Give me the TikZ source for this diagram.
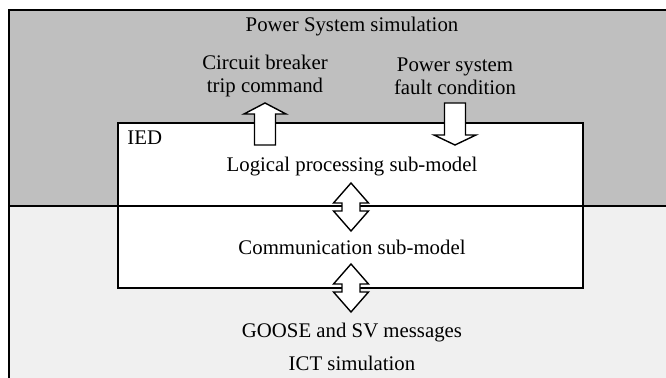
\documentclass[tikz,border=0pt]{standalone}
\usepackage{fontspec}
\setmainfont{Liberation Serif}
\usepackage{tikz}
\usetikzlibrary{positioning}

\definecolor{psgray}{gray}{0.75}
\definecolor{ictgray}{gray}{0.94}

\begin{document}
\begin{tikzpicture}[x=0.5pt, y=-0.5pt,
    every node/.style={font=\fontsize{10.4}{11.5}\selectfont, inner sep=0pt},
    blockarrow/.style={draw, fill=white, line width=0.7pt, line join=miter},
    frame/.style={line width=0.7pt}]
    \useasboundingbox (0,0) rectangle (666,378);
    \clip (0,0) rectangle (666,378);

    % the two simulation domains
    \fill[psgray] (9,10) rectangle (680,206);
    \fill[ictgray] (9,206) rectangle (680,390);
    \draw[frame] (9,390) -- (9,10) -- (680,10);

    % IED with its two sub-models
    \node (ied) at (350.5,205.5) [draw, fill=white, line width=0.7pt, minimum width=232.5pt, minimum height=82.5pt] {};
    \draw[frame] (9,206) -- (680,206);
    \node (iedlabel) at (127,138) [anchor=west] {IED};
    \node (logic) at (352,167) {Logical processing sub-model};
    \node (comm) at (352,247) {Communication sub-model};

    \node (pstitle) at (352,27) {Power System simulation};
    \node (tripcmd) at (265,76.5) [align=center] {Circuit breaker\\trip command};
    \node (fault) at (455,76.5) [align=center] {Power system\\fault condition};
    \node (goose) at (352,333) {GOOSE and SV messages};
    \node (icttitle) at (352,363) {ICT simulation};

    % block arrows
    \coordinate (triptip) at (265,103);
    \coordinate (faulttip) at (455,145);
    \coordinate (lctip) at (351,183);
    \coordinate (cgtip) at (351,264);

    \draw[blockarrow] (triptip) -- ++(21,11) -- ++(-10.5,0) -- ++(0,31) -- ++(-21,0) -- ++(0,-31) -- ++(-10.5,0) -- cycle;
    \draw[blockarrow] (faulttip) -- ++(21,-10) -- ++(-10.5,0) -- ++(0,-32) -- ++(-21,0) -- ++(0,32) -- ++(-10.5,0) -- cycle;
    \draw[blockarrow] (lctip) -- ++(17.5,20) -- ++(-8.5,0) -- ++(0,8) -- ++(8.5,0) -- ++(-17.5,20) -- ++(-17.5,-20) -- ++(8.5,0) -- ++(0,-8) -- ++(-8.5,0) -- cycle;
    \draw[blockarrow] (cgtip) -- ++(17.5,20) -- ++(-8.5,0) -- ++(0,8) -- ++(8.5,0) -- ++(-17.5,20) -- ++(-17.5,-20) -- ++(8.5,0) -- ++(0,-8) -- ++(-8.5,0) -- cycle;
\end{tikzpicture}
\end{document}
